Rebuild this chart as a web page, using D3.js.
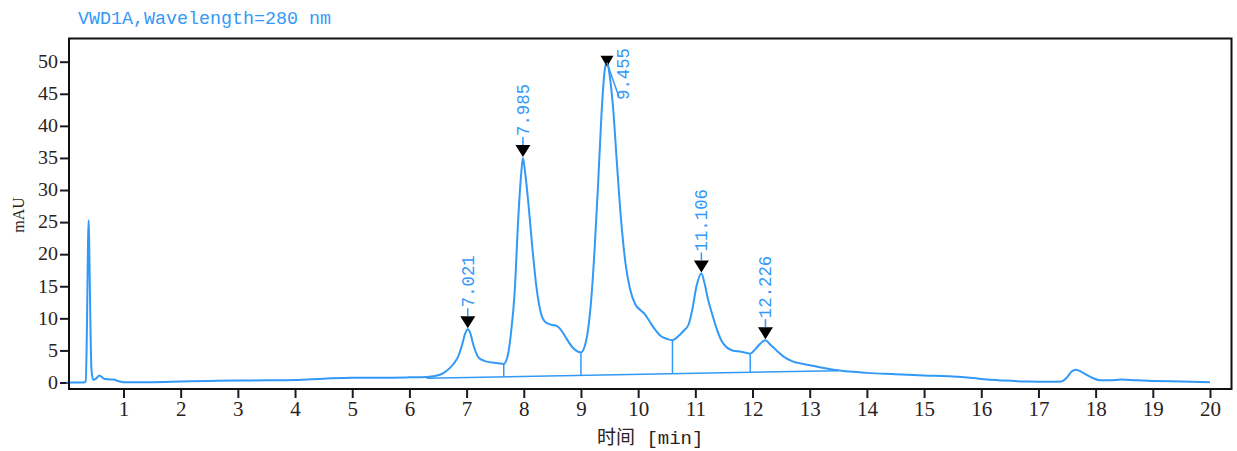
<!DOCTYPE html>
<html>
<head>
<meta charset="utf-8">
<script src="https://cdn.jsdelivr.net/npm/d3@7"></script>
<style>
  body { margin: 0; background: #fff; }
  svg { display: block; }
</style>
</head>
<body>
<svg id="chart" width="1237" height="451"></svg>
<script>
// chromatogram (min, mAU)
const times = [0, 0.30, 0.34, 0.36, 0.38, 0.39, 0.40, 0.42, 0.44, 0.47, 0.52, 0.58, 0.64, 0.72, 0.82, 0.92, 1.0,
  1.5, 2.0, 2.5, 3.0, 3.5, 4.0, 4.5, 5.0, 5.5, 6.0, 6.3, 6.45, 6.6, 6.7, 6.78, 6.85, 6.92, 6.97, 7.021,
  7.06, 7.12, 7.2, 7.3, 7.45, 7.55, 7.65, 7.72, 7.78, 7.84, 7.9, 7.95, 7.985, 8.02, 8.08, 8.15, 8.22,
  8.3, 8.38, 8.48, 8.58, 8.66, 8.75, 8.85, 8.95, 9.0, 9.06, 9.12, 9.18, 9.24, 9.3, 9.36, 9.42, 9.455,
  9.5, 9.56, 9.63, 9.7, 9.78, 9.86, 9.95, 10.05, 10.12, 10.2, 10.3, 10.4, 10.5, 10.6, 10.7, 10.8, 10.88,
  10.95, 11.02, 11.106, 11.16, 11.22, 11.3, 11.38, 11.47, 11.56, 11.65, 11.8, 11.96, 12.05, 12.13,
  12.226, 12.3, 12.42, 12.55, 12.7, 12.85, 13.05, 13.25, 13.45, 13.7, 14.0, 14.5, 15.0, 15.5, 15.8,
  16.1, 16.4, 16.8, 17.2, 17.4, 17.5, 17.58, 17.65, 17.72, 17.82, 17.95, 18.08, 18.25, 18.45, 18.7,
  19.0, 19.5, 20.0];
const signal = [0, 0, 0.2, 8, 22, 25.3, 22, 10, 2, 0.4, 0.6, 1.1, 0.7, 0.5, 0.45, 0.2, 0.05,
  0.05, 0.15, 0.25, 0.3, 0.35, 0.4, 0.6, 0.75, 0.75, 0.8, 0.85, 1.0, 1.5, 2.2, 3.0, 4.0, 5.8, 7.5, 8.3,
  7.8, 5.8, 4.0, 3.4, 3.1, 3.0, 2.9, 4.2, 8, 14, 25, 32, 35.0, 33, 28, 21, 15,
  10.8, 9.4, 9.0, 8.8, 8.1, 6.8, 5.5, 4.8, 4.7, 5.5, 8, 13, 21, 31, 42, 49, 50.0,
  48, 43, 34, 25.5, 18.5, 14.5, 12.2, 11.2, 10.6, 9.5, 8.2, 7.2, 6.8, 6.6, 7.2, 8.1, 9.0,
  11.5, 15, 17.0, 15.5, 13, 10.5, 8.2, 6.3, 5.4, 5.0, 4.8, 4.5, 5.2, 6.0,
  6.6, 6.0, 5.0, 4.0, 3.3, 2.95, 2.6, 2.25, 1.95, 1.7, 1.5, 1.3, 1.1, 0.95, 0.75,
  0.45, 0.3, 0.15, 0.1, 0.15, 0.8, 1.7, 2.0, 1.8, 1.3, 0.7, 0.35, 0.35, 0.45, 0.35,
  0.25, 0.15, 0.05];

const peakTimes = [7.021, 7.985, 9.455, 11.106, 12.226];
const peakHeights = [8.3, 35.0, 50.0, 17.0, 6.6];
const peakLabels = ['7.021', '7.985', '9.455', '11.106', '12.226'];

const baselineTimes = [6.3, 13.5];
const baselineValues = [0.65, 1.85];
const dropTimes = [7.65, 9.0, 10.6, 11.96];

const xTicks = [1, 2, 3, 4, 5, 6, 7, 8, 9, 10, 11, 12, 13, 14, 15, 16, 17, 18, 19, 20];
const yTicks = [0, 5, 10, 15, 20, 25, 30, 35, 40, 45, 50];

const svg = d3.select('#chart');
const blue = '#3399f7';
const frame = { left: 69, right: 1231.5, top: 38.5, bottom: 389 };

const x = d3.scaleLinear().domain([0, 20]).range([66.3, 1210]);
const y = d3.scaleLinear().domain([0, 50]).range([382.5, 61.7]);

svg.append('rect')
  .attr('width', 1237)
  .attr('height', 451)
  .attr('fill', '#fff');

// title
svg.append('text')
  .attr('x', 78)
  .attr('y', 24)
  .attr('fill', blue)
  .attr('font-family', 'Liberation Mono, monospace')
  .attr('font-size', 19)
  .attr('textLength', 253)
  .attr('lengthAdjust', 'spacingAndGlyphs')
  .text('VWD1A,Wavelength=280 nm');

// axes
const xAxis = svg.append('g')
  .attr('transform', `translate(0,${frame.bottom})`)
  .call(d3.axisBottom(x).tickValues(xTicks).tickSize(9).tickSizeOuter(0).tickPadding(3));

const yAxis = svg.append('g')
  .attr('transform', `translate(${frame.left},0)`)
  .call(d3.axisLeft(y).tickValues(yTicks).tickSize(9).tickSizeOuter(0).tickPadding(2));

[xAxis, yAxis].forEach(a => {
  a.select('.domain').remove();
  a.selectAll('line').attr('stroke', '#1a1a2a').attr('stroke-width', 2);
  a.selectAll('text')
    .attr('fill', '#2a2222')
    .attr('font-family', 'Liberation Serif, serif');
});
xAxis.selectAll('text').attr('font-size', 21);
yAxis.selectAll('text').attr('font-size', 18).attr('textLength', d => String(d).length * 10)
  .attr('lengthAdjust', 'spacingAndGlyphs');

// axis titles
svg.append('text')
  .attr('transform', 'translate(24,215)rotate(-90)')
  .attr('text-anchor', 'middle')
  .attr('fill', '#2a2222')
  .attr('font-family', 'Liberation Serif, serif')
  .attr('font-size', 16)
  .text('mAU');

const xTitle = svg.append('text')
  .attr('x', 597)
  .attr('y', 444)
  .attr('fill', '#2a2222')
  .attr('font-size', 19);
xTitle.append('tspan')
  .attr('font-family', 'Noto Sans CJK SC, sans-serif')
  .text('时间');
xTitle.append('tspan')
  .attr('font-family', 'Liberation Mono, monospace')
  .text(' [min]');

// integration baseline and drop lines
const baseAt = t => d3.scaleLinear().domain(baselineTimes).range(baselineValues)(t);
const sigAt = t => {
  const i = d3.bisectLeft(times, t);
  if (times[i] === t) return signal[i];
  const k = (t - times[i - 1]) / (times[i] - times[i - 1]);
  return signal[i - 1] + k * (signal[i] - signal[i - 1]);
};

svg.append('line')
  .attr('x1', x(baselineTimes[0]))
  .attr('y1', y(baselineValues[0]))
  .attr('x2', x(baselineTimes[1]))
  .attr('y2', y(baselineValues[1]))
  .attr('stroke', blue)
  .attr('stroke-width', 1.5);

svg.selectAll('.drop')
  .data(dropTimes)
  .enter()
  .append('line')
    .attr('class', 'drop')
    .attr('x1', d => x(d))
    .attr('x2', d => x(d))
    .attr('y1', d => y(baseAt(d)))
    .attr('y2', d => y(sigAt(d)))
    .attr('stroke', blue)
    .attr('stroke-width', 1.5);

// signal
const line = d3.line()
  .x(d => x(d[0]))
  .y(d => y(d[1]))
  .curve(d3.curveMonotoneX);

svg.append('path')
  .datum(times.map((t, i) => [t, signal[i]]))
  .attr('d', line)
  .attr('fill', 'none')
  .attr('stroke', blue)
  .attr('stroke-width', 2)
  .attr('stroke-linejoin', 'round');

// peak markers and labels
peakTimes.forEach((t, i) => {
  const px = x(t);
  const top = peakLabels[i] === '9.455';
  const tip = top ? y(peakHeights[i]) + 5 : y(peakHeights[i]) - 1;
  const w = top ? 13 : 15;
  const h = top ? 11 : 12;

  svg.append('path')
    .attr('d', `M${px - w / 2},${tip - h}L${px + w / 2},${tip - h}L${px},${tip}Z`)
    .attr('fill', '#000');

  let lx = px;
  let ly = tip - h - 9;
  if (top) {
    // no room above, label sits to the right with a leader
    lx = 623;
    ly = 100;
    svg.append('line')
      .attr('x1', px)
      .attr('y1', tip - 4)
      .attr('x2', lx - 4)
      .attr('y2', ly - 3)
      .attr('stroke', blue)
      .attr('stroke-width', 1.5);
  } else {
    svg.append('line')
      .attr('x1', px)
      .attr('x2', px)
      .attr('y1', tip - h)
      .attr('y2', tip - h - 8)
      .attr('stroke', blue)
      .attr('stroke-width', 1.5);
  }

  svg.append('text')
    .attr('transform', `translate(${lx + 6},${ly})rotate(-90)`)
    .attr('fill', blue)
    .attr('font-family', 'Liberation Mono, monospace')
    .attr('font-size', 18)
    .attr('textLength', peakLabels[i].length * 10.4)
    .attr('lengthAdjust', 'spacingAndGlyphs')
    .text(peakLabels[i]);
});

// frame
svg.append('rect')
  .attr('x', frame.left)
  .attr('y', frame.top)
  .attr('width', frame.right - frame.left)
  .attr('height', frame.bottom - frame.top)
  .attr('fill', 'none')
  .attr('stroke', '#111')
  .attr('stroke-width', 2);
</script>
</body>
</html>
